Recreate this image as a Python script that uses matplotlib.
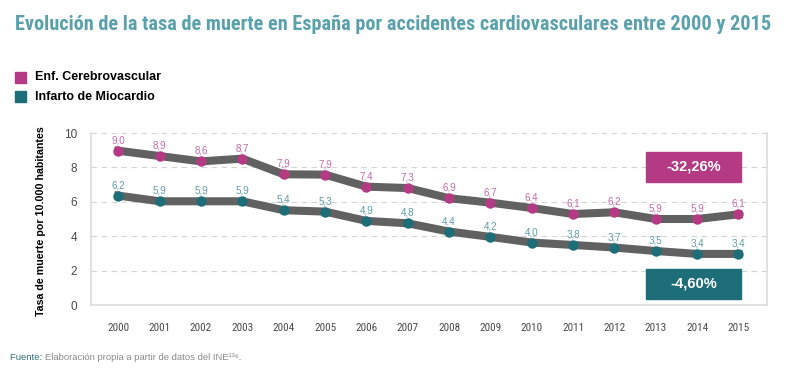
import numpy as np
import matplotlib.pyplot as plt
from matplotlib.patches import Rectangle

# datos
years = [str(y) for y in range(2000, 2016)]
cerebro_pos = [8.97, 8.66, 8.35, 8.51, 7.60, 7.58, 6.88, 6.80, 6.21, 5.95, 5.64, 5.29, 5.39, 5.00, 5.00, 5.27]
cerebro_lbl = [9.0, 8.9, 8.6, 8.7, 7.9, 7.9, 7.4, 7.3, 6.9, 6.7, 6.4, 6.1, 6.2, 5.9, 5.9, 6.1]
infarto_pos = [6.36, 6.03, 6.03, 6.03, 5.51, 5.43, 4.89, 4.75, 4.27, 3.96, 3.63, 3.49, 3.34, 3.14, 2.97, 2.97]
infarto_lbl = [6.2, 5.9, 5.9, 5.9, 5.4, 5.3, 4.9, 4.8, 4.4, 4.2, 4.0, 3.8, 3.7, 3.5, 3.4, 3.4]
cambio_cerebro = "-32,26%"
cambio_infarto = "-4,60%"

MAG = "#b43a83"
TEAL = "#1e6e79"
MAG_TXT = "#c76aa6"
TEAL_TXT = "#5e9da6"
LINE = "#616161"
COND = ["Roboto Condensed", "DejaVu Sans"]

plt.rcParams["font.family"] = ["Liberation Sans", "DejaVu Sans"]

fig = plt.figure(figsize=(7.91, 3.82), dpi=100)
ax = fig.add_axes([91/791, 1 - 305/382, (767 - 91)/791, (305 - 133)/382])

x = np.arange(len(years))
for pos, lbl, col, tcol in [(cerebro_pos, cerebro_lbl, MAG, MAG_TXT),
                            (infarto_pos, infarto_lbl, TEAL, TEAL_TXT)]:
    ax.plot(x, pos, color=LINE, lw=5.8, solid_joinstyle="miter", zorder=3)
    ax.plot(x, pos, "o", ms=7.5, color=col, mec="none", zorder=4)
    for xi, yi, v in zip(x, pos, lbl):
        ax.annotate(f"{v:.1f}".replace(".", ","), (xi, yi), xytext=(0, 7.5),
                    textcoords="offset points", ha="center", va="center",
                    color=tcol, fontsize=7.1, zorder=5)

ax.set_xlim(-0.66, 15.69)
ax.set_ylim(0, 10)
ax.set_yticks([0, 2, 4, 6, 8, 10])
ax.set_xticks(x)
ax.set_xticklabels(years)
ax.grid(axis="y", color="#d4d4d4", ls=(0, (5, 4)), lw=0.8)
ax.set_axisbelow(True)
ax.tick_params(length=0, colors="#4a4a4a")
ax.tick_params(axis="x", pad=13, labelsize=8)
ax.tick_params(axis="y", pad=10, labelsize=8.5)
for t in ax.get_xticklabels():
    t.set_family(COND)
for side in ["left", "right", "bottom"]:
    ax.spines[side].set_color("#dcdcdc")
    ax.spines[side].set_linewidth(1.2)
ax.spines["top"].set_visible(False)
ax.set_ylabel("Tasa de muerte por 10.000 habitantes", fontsize=7.7,
              fontweight="bold")
ax.yaxis.set_label_coords(46/791, 1 - 221/382, transform=fig.transFigure)

# cajas de variacion
for txt, col, y0 in [(cambio_cerebro, MAG, 151.7), (cambio_infarto, TEAL, 269)]:
    fig.patches.append(Rectangle((646/791, 1 - (y0 + 30)/382), 95/791, 30/382,
                                 transform=fig.transFigure, color=col, zorder=6))
    fig.text(693.5/791, 1 - (y0 + 15)/382, txt, ha="center", va="center",
             color="white", fontsize=10.5, fontweight="bold", zorder=7)

# titulo y leyenda
fig.text(15/791, 1 - 25/382, "Evolución de la tasa de muerte en España por accidentes cardiovasculares entre 2000 y 2015",
         ha="left", va="center", fontsize=14.6, fontweight="bold",
         color="#5aa1ab", family=COND)
for i, (name, col) in enumerate([("Enf. Cerebrovascular", MAG), ("Infarto de Miocardio", TEAL)]):
    yc = 77 + i * 19.5
    fig.patches.append(Rectangle((15/791, 1 - (yc + 5.5)/382), 11/791, 11/382,
                                 transform=fig.transFigure, color=col))
    fig.text(35/791, 1 - yc/382, name, ha="left", va="center", fontsize=9,
             fontweight="bold")

src = fig.text(10/791, 1 - 357/382, "Fuente: ", ha="left", va="center",
               fontsize=6.8, color="#2f6f78")
ax.annotate("Elaboración propia a partir de datos del INE¹³⁶.", xy=(1, 0),
            xycoords=src, ha="left", va="bottom", fontsize=6.8,
            color="#8a8a8a", annotation_clip=False)

fig.savefig("out.png", dpi=100)
plt.close()
